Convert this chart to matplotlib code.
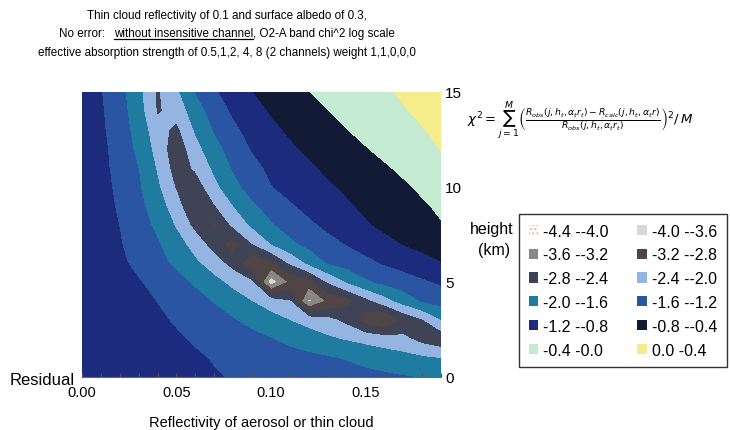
import matplotlib
matplotlib.use('Agg')
import matplotlib.pyplot as plt
from matplotlib.patches import Patch
from matplotlib.lines import Line2D
from matplotlib.ticker import MultipleLocator
from matplotlib import font_manager

W, H = 730, 431

# reflectivity of aerosol / thin cloud (x) and height in km (y)
refl = [0.00, 0.01, 0.02, 0.03, 0.04, 0.05, 0.06, 0.07, 0.08, 0.09,
        0.10, 0.11, 0.12, 0.13, 0.14, 0.15, 0.16, 0.17, 0.18, 0.19]
height = [0, 1, 2, 3, 4, 5, 6, 7, 8, 9, 10, 11, 12, 13, 14, 15]

# log10 chi^2 residual, one row per height
resid = [
    [-0.90, -0.94, -0.98, -1.02, -1.06, -1.10, -1.14, -1.18, -1.22, -1.26, -1.30, -1.34, -1.38, -1.42, -1.46, -1.50, -1.54, -1.58, -1.62, -1.66],
    [-0.90, -0.95, -0.99, -1.03, -1.08, -1.12, -1.17, -1.22, -1.28, -1.33, -1.39, -1.45, -1.51, -1.57, -1.63, -1.71, -1.79, -1.87, -1.95, -2.02],
    [-0.90, -0.95, -1.01, -1.06, -1.11, -1.17, -1.23, -1.32, -1.41, -1.50, -1.59, -1.71, -1.82, -1.94, -2.04, -2.13, -2.22, -2.30, -2.55, -2.70],
    [-0.90, -0.96, -1.03, -1.09, -1.16, -1.23, -1.35, -1.46, -1.58, -1.71, -1.86, -2.01, -2.15, -2.29, -2.52, -3.00, -3.25, -2.75, -2.45, -2.02],
    [-0.90, -0.98, -1.05, -1.13, -1.21, -1.35, -1.48, -1.63, -1.82, -2.01, -2.20, -2.39, -3.70, -3.15, -2.95, -2.55, -2.18, -1.85, -1.58, -1.45],
    [-0.90, -0.99, -1.09, -1.18, -1.33, -1.48, -1.66, -1.89, -2.12, -2.36, -3.85, -3.15, -3.00, -2.38, -1.99, -1.68, -1.51, -1.39, -1.27, -1.15],
    [-0.90, -1.02, -1.14, -1.29, -1.48, -1.69, -1.94, -2.21, -2.58, -3.13, -2.91, -2.36, -1.93, -1.59, -1.45, -1.31, -1.17, -1.06, -0.94, -0.82],
    [-0.90, -1.04, -1.18, -1.37, -1.57, -1.85, -2.17, -2.61, -3.01, -2.42, -2.01, -1.70, -1.50, -1.34, -1.19, -1.05, -0.91, -0.79, -0.70, -0.62],
    [-0.90, -1.05, -1.21, -1.43, -1.69, -2.05, -2.54, -2.88, -2.32, -1.94, -1.65, -1.45, -1.28, -1.12, -0.98, -0.84, -0.73, -0.64, -0.53, -0.42],
    [-0.90, -1.07, -1.25, -1.50, -1.82, -2.23, -2.85, -2.44, -2.01, -1.68, -1.45, -1.25, -1.10, -0.97, -0.85, -0.74, -0.64, -0.54, -0.44, -0.35],
    [-0.90, -1.08, -1.29, -1.56, -1.95, -2.45, -2.64, -2.12, -1.73, -1.45, -1.22, -1.09, -0.97, -0.85, -0.75, -0.65, -0.55, -0.45, -0.35, -0.25],
    [-0.90, -1.10, -1.33, -1.61, -2.05, -2.60, -2.35, -1.93, -1.57, -1.32, -1.13, -0.99, -0.86, -0.74, -0.64, -0.54, -0.44, -0.34, -0.24, -0.14],
    [-0.90, -1.11, -1.37, -1.70, -2.15, -2.68, -2.15, -1.75, -1.44, -1.18, -1.02, -0.86, -0.74, -0.63, -0.53, -0.42, -0.32, -0.22, -0.11, 0.01],
    [-0.90, -1.14, -1.41, -1.77, -2.25, -2.50, -1.96, -1.58, -1.29, -1.07, -0.89, -0.75, -0.64, -0.52, -0.41, -0.31, -0.22, -0.12, -0.02, 0.08],
    [-0.90, -1.16, -1.45, -1.84, -2.45, -2.25, -1.80, -1.43, -1.15, -0.95, -0.77, -0.65, -0.53, -0.41, -0.31, -0.22, -0.12, -0.03, 0.07, 0.16],
    [-0.90, -1.19, -1.48, -1.90, -2.45, -2.09, -1.59, -1.26, -1.03, -0.81, -0.68, -0.54, -0.41, -0.32, -0.23, -0.14, -0.05, 0.05, 0.14, 0.22],
]

levels = [-4.4, -4.0, -3.6, -3.2, -2.8, -2.4, -2.0, -1.6, -1.2, -0.8, -0.4, 0.0, 0.4]
band_colors = ['#f2b38a', '#d9d7d5', '#8b8684', '#4e4544', '#3e4356', '#94b5e2',
               '#1f7ba0', '#2a55a2', '#1c2b7d', '#121b36', '#c5ead2', '#f5ec8c']
band_labels = ['-4.4 --4.0', '-4.0 --3.6', '-3.6 --3.2', '-3.2 --2.8', '-2.8 --2.4', '-2.4 --2.0',
               '-2.0 --1.6', '-1.6 --1.2', '-1.2 --0.8', '-0.8 --0.4', '-0.4 -0.0', '0.0 -0.4']

xtick_vals = [0.00, 0.05, 0.10, 0.15]
xtick_labels = ['0.00', '0.05', '0.10', '0.15']
ytick_vals = [0, 5, 10, 15]

title_lines = ['Thin cloud reflectivity of 0.1 and surface albedo of 0.3,',
               ['No error:', 'without insensitive channel', ', O2-A band chi^2 log scale'],
               'effective absorption strength of 0.5,1,2, 4, 8 (2 channels) weight 1,1,0,0,0']

installed = {f.name for f in font_manager.fontManager.ttflist}
body = 'Liberation Sans' if 'Liberation Sans' in installed else 'DejaVu Sans'
narrow = 'Liberation Sans Narrow' if 'Liberation Sans Narrow' in installed else body
plt.rcParams['font.family'] = body


def fx(px):
  return px / W


def fy(py):
  return 1 - py / H


fig = plt.figure(figsize=(W / 100, H / 100), dpi=100)
renderer = fig.canvas.get_renderer()

ax = fig.add_axes([fx(82), fy(378), 359 / W, 285 / H])
ax.contourf(refl, height, resid, levels=levels, colors=band_colors)
ax.set_xlim(0, 0.19)
ax.set_ylim(0, 15)

ax.set_xticks(xtick_vals)
ax.set_xticklabels(xtick_labels)
ax.xaxis.set_minor_locator(MultipleLocator(0.01))
ax.tick_params(axis='x', which='both', direction='in', length=3, width=0.8,
               color='#555555', pad=6, labelsize=10.5)
ax.yaxis.tick_right()
ax.set_yticks(ytick_vals)
ax.tick_params(axis='y', length=0, pad=3, labelsize=11)
for side in ('top', 'left', 'right'):
  ax.spines[side].set_visible(False)
ax.spines['bottom'].set_color('#666666')
ax.set_xlabel('Reflectivity of aerosol or thin cloud', fontsize=10.5, labelpad=11)

# title, three centred lines in a narrow face; scale to the reference width
probe = fig.text(0, 0, title_lines[2], fontsize=11, family=narrow)
tfs = min(11, 11 * 376 / probe.get_window_extent(renderer).width)
probe.remove()
cx = 227
fig.text(fx(cx), fy(19), title_lines[0], ha='center', va='baseline', fontsize=tfs, family=narrow)
fig.text(fx(cx), fy(56), title_lines[2], ha='center', va='baseline', fontsize=tfs, family=narrow)
parts = [fig.text(0, fy(37), s, ha='left', va='baseline', fontsize=tfs, family=narrow)
         for s in title_lines[1]]
widths = [t.get_window_extent(renderer).width for t in parts]
gaps = [9, 0, 0]
x = cx - (sum(widths) + sum(gaps)) / 2
spans = []
for t, w, g in zip(parts, widths, gaps):
  t.set_x(fx(x))
  spans.append((x, x + w))
  x += w + g
u0, u1 = spans[1]
fig.add_artist(Line2D([fx(u0), fx(u1)], [fy(39.5), fy(39.5)], color='black', lw=0.9))

formula = (r'$\chi^2=\sum_{j=1}^{M}\left(\frac{R_{obs}(j,h_t,\alpha_t r_t)-R_{calc}(j,h_t,\alpha_t r)}'
           r'{R_{obs}(j,h_t,\alpha_t r_t)}\right)^2/\,M$')
fig.text(fx(467), fy(121), formula, ha='left', va='center', fontsize=9.5)

fig.text(fx(10), fy(381), 'Residual', ha='left', va='center', fontsize=12)
fig.text(fx(492), fy(230), 'height', ha='center', va='center', fontsize=11.5)
fig.text(fx(494), fy(250), '(km)', ha='center', va='center', fontsize=11.5)

handles = []
for i, c in enumerate(band_colors):
  if i == 0:
    handles.append(Patch(facecolor='white', edgecolor=c, hatch='....', lw=0))
  else:
    handles.append(Patch(facecolor=c, edgecolor='none'))
order = [0, 2, 4, 6, 8, 10, 1, 3, 5, 7, 9, 11]
leg = fig.legend([handles[i] for i in order], [band_labels[i] for i in order],
                 ncol=2, loc='upper left', bbox_to_anchor=(fx(519), fy(215)),
                 frameon=True, fancybox=False, edgecolor='black', fontsize=11.5,
                 handlelength=0.6, handleheight=0.6, handletextpad=0.3,
                 columnspacing=1.8, labelspacing=0.55, borderpad=0.6, borderaxespad=0)
leg.get_frame().set_linewidth(1.0)

fig.savefig('out.png', dpi=100)
